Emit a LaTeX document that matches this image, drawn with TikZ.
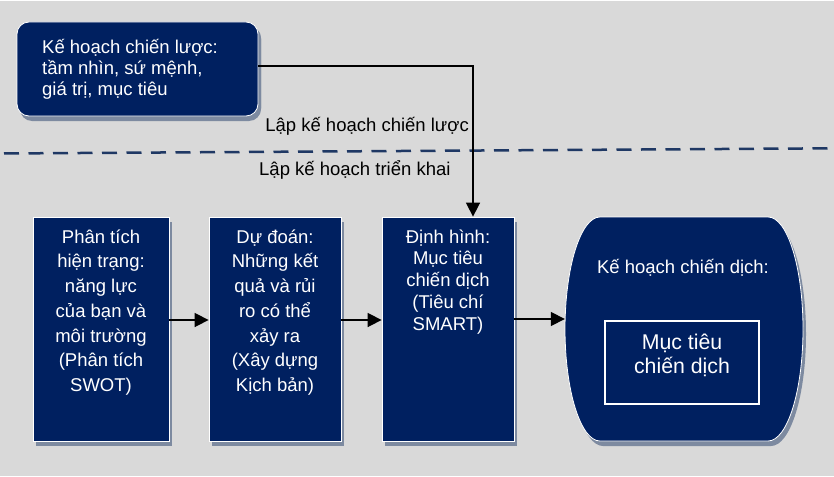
\documentclass[tikz,border=0pt]{standalone}
\usepackage{fontspec}
\setmainfont{Liberation Sans}
\usetikzlibrary{arrows.meta,shadows}

\definecolor{navy}{RGB}{0,32,96}
\definecolor{bggray}{RGB}{217,217,217}
\definecolor{shadowc}{RGB}{125,138,160}
\definecolor{dashc}{RGB}{31,56,100}

\begin{document}
\begin{tikzpicture}[x=1pt,y=-1pt,
  panel/.style={fill=navy, draw=white, line width=0.8pt,
    drop shadow={shadow xshift=3pt, shadow yshift=-5pt, fill=shadowc, opacity=1}},
  stepbox/.style={panel, rectangle, minimum height=224pt, inner sep=0pt},
  txt/.style={text=white, inner sep=0pt, align=center,
    font=\fontsize{18.5}{24.7}\selectfont},
  lbl/.style={text=black, inner sep=0pt, font=\fontsize{18.5}{22}\selectfont},
  flow/.style={line width=1.6pt, -{Triangle[length=14pt,width=14pt]}}]

% background
\fill[bggray] (0,0) rectangle (834,476);
\fill[white] (0,0) rectangle (834,1.5);
\useasboundingbox (0,0) rectangle (834,476);

% divider between strategic and operational planning
\coordinate (dl) at (0,153.5);
\coordinate (dr) at (834,148.3);
\draw[dashc, line width=2.5pt, dash pattern=on 15pt off 9.5pt, dash phase=-4pt] (dl) -- (dr);

% strategic plan
\node[panel, rectangle, rounded corners=12pt, minimum width=241pt, minimum height=94pt,
  inner sep=0pt, drop shadow={shadow xshift=3pt, shadow yshift=-4pt, fill=shadowc, opacity=1}]
  (strat) at (137.5,69) {};
\node[txt, align=left, anchor=north west, font=\fontsize{18.5}{21.2}\selectfont]
  (stratt) at (42,35) {\rule{0pt}{18pt}Kế hoạch chiến lược:\\tầm nhìn, sứ mệnh,\\giá trị, mục tiêu};

% level labels
\node[lbl, anchor=base east] (lstrat) at (469,131.5) {Lập kế hoạch chiến lược};
\node[lbl, anchor=base west] (limpl) at (259,175) {Lập kế hoạch triển khai};

% process steps
\node[stepbox, minimum width=136pt] (s1) at (101,329) {};
\node[stepbox, minimum width=132pt] (s2) at (275,329) {};
\node[stepbox, minimum width=132pt] (s3) at (448,329) {};

\node[txt, anchor=north] (s1t) at (101,225)
  {\rule{0pt}{18pt}Phân tích\\hiện trạng:\\năng lực\\của bạn và\\môi trường\\(Phân tích\\SWOT)};
\node[txt, anchor=north] (s2t) at (275,225)
  {\rule{0pt}{18pt}Dự đoán:\\Những kết\\quả và rủi\\ro có thể\\xảy ra\\(Xây dựng\\Kịch bản)};
\node[txt, anchor=north, font=\fontsize{18.5}{21.7}\selectfont] (s3t) at (448,225)
  {\rule{0pt}{18pt}Định hình:\\Mục tiêu\\chiến dịch\\(Tiêu chí\\SMART)};

% campaign plan
\node[rectangle, minimum width=238pt, minimum height=224pt, inner sep=0pt] (plan) at (684,329) {};
\path[panel] (600,217) -- (768,217)
  .. controls (787.3,217) and (803,267.1) .. (803,329)
  .. controls (803,390.9) and (787.3,441) .. (768,441)
  -- (600,441)
  .. controls (580.7,441) and (565,390.9) .. (565,329)
  .. controls (565,267.1) and (580.7,217) .. (600,217) -- cycle;
\node[txt, anchor=base] (plant) at (683,273.5) {Kế hoạch chiến dịch:};
\node[draw=white, line width=1.3pt, rectangle, minimum width=154pt, minimum height=83pt,
  inner sep=0pt] (goal) at (682,362.5) {};
\node[txt, anchor=north, font=\fontsize{21.3}{24}\selectfont] (goalt) at (682,329.5)
  {\rule{0pt}{20pt}Mục tiêu\\chiến dịch};

% connectors
\draw[flow] ([yshift=3pt]strat.east) -| ([xshift=25pt]s3.north);
\draw[flow] ([yshift=9pt]s1.east) -- ([yshift=9pt]s2.west);
\draw[flow] ([yshift=9pt]s2.east) -- ([yshift=9pt]s3.west);
\draw[flow] ([yshift=10pt]s3.east) -- ([yshift=10pt]plan.west);
\end{tikzpicture}
\end{document}
